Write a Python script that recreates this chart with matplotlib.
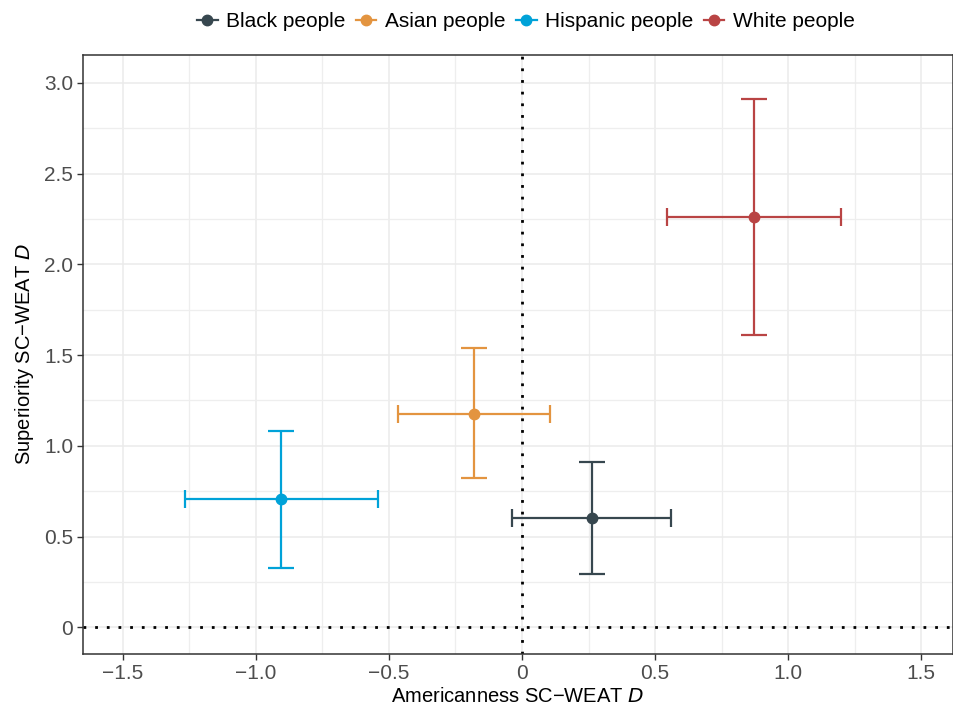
import matplotlib
matplotlib.use("Agg")
import matplotlib.pyplot as plt
from matplotlib.ticker import MultipleLocator
from matplotlib.lines import Line2D

plt.rcParams['font.family'] = ['Liberation Sans', 'DejaVu Sans']

# Group estimates with 95% intervals
groups = ['Black people', 'Asian people', 'Hispanic people', 'White people']
colors = ['#37474f', '#e39440', '#00a2d8', '#b94444']
amer = [0.263, -0.182, -0.905, 0.871]
amer_lo = [-0.036, -0.467, -1.267, 0.545]
amer_hi = [0.561, 0.104, -0.542, 1.198]
sup = [0.602, 1.177, 0.705, 2.262]
sup_lo = [0.295, 0.823, 0.328, 1.612]
sup_hi = [0.909, 1.539, 1.082, 2.911]

fig = plt.figure(figsize=(9.54, 7.06), dpi=100)
ax = fig.add_axes([0.087, 0.0737, 0.912, 0.8483])

ax.axvline(0, color='black', lw=2, ls=(0, (1, 3.2)), zorder=2)
ax.axhline(0, color='black', lw=2, ls=(0, (1, 3.2)), zorder=2)

for i, g in enumerate(groups):
    c = colors[i]
    ax.errorbar(amer[i], sup[i],
                yerr=[[sup[i] - sup_lo[i]], [sup_hi[i] - sup[i]]],
                fmt='none', ecolor=c, elinewidth=1.6, capsize=9.5, capthick=1.6, zorder=3)
    ax.errorbar(amer[i], sup[i],
                xerr=[[amer[i] - amer_lo[i]], [amer_hi[i] - amer[i]]],
                fmt='none', ecolor=c, elinewidth=1.6, capsize=6.5, capthick=1.6, zorder=3)
    ax.plot(amer[i], sup[i], 'o', color=c, ms=7.5, zorder=4)

ax.set_xlim(-1.65, 1.62)
ax.set_ylim(-0.147, 3.153)
ax.set_xticks([-1.5, -1.0, -0.5, 0, 0.5, 1.0, 1.5])
ax.set_xticklabels(['\u22121.5', '\u22121.0', '\u22120.5', '0', '0.5', '1.0', '1.5'])
ax.set_yticks([0, 0.5, 1.0, 1.5, 2.0, 2.5, 3.0])
ax.set_yticklabels(['0', '0.5', '1.0', '1.5', '2.0', '2.5', '3.0'])
ax.xaxis.set_minor_locator(MultipleLocator(0.25))
ax.yaxis.set_minor_locator(MultipleLocator(0.25))
ax.grid(True, which='major', color='#ebebeb', lw=1.1, zorder=0)
ax.grid(True, which='minor', color='#eeeeee', lw=0.9, zorder=0)
ax.set_axisbelow(True)
ax.tick_params(which='minor', length=0)
ax.tick_params(which='major', length=4, width=1, color='#333333',
               labelsize=15, labelcolor='#4d4d4d', pad=3)
for s in ax.spines.values():
    s.set_color('#333333')
    s.set_linewidth(1.1)

ax.set_xlabel('Americanness SC\u2212WEAT $\\it{D}$', fontsize=14.5, labelpad=3)
ax.set_ylabel('Superiority SC\u2212WEAT $\\it{D}$', fontsize=14.5, labelpad=6)

handles = [Line2D([0], [0], color=c, lw=1.6, marker='o', ms=7.5) for c in colors]
fig.legend(handles, groups, loc='upper center', bbox_to_anchor=(0.551, 1.009), ncol=4,
           frameon=False, fontsize=15, handlelength=1.0, handletextpad=0.4,
           columnspacing=0.5)

fig.savefig('out.png', dpi=100)
